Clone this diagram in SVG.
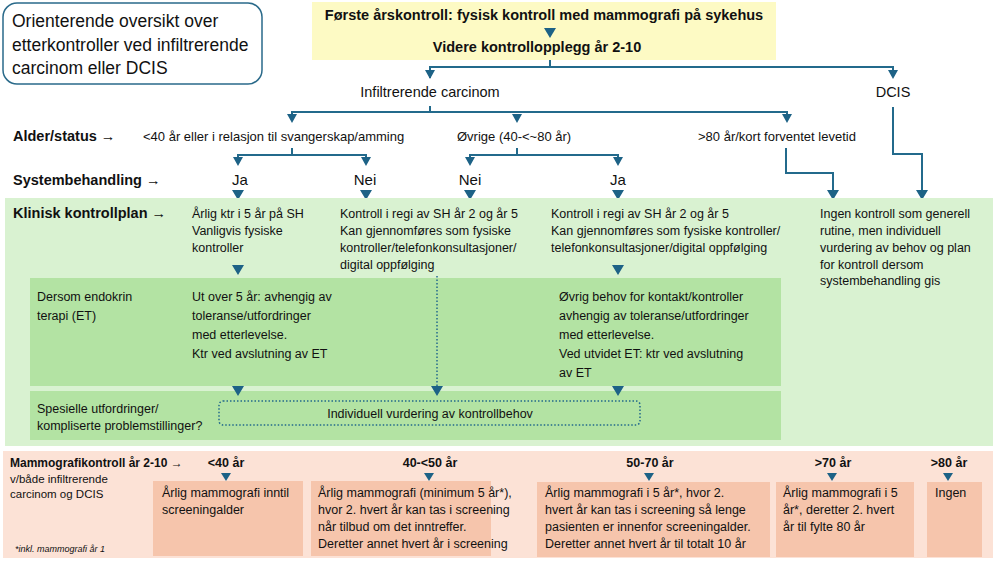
<svg xmlns="http://www.w3.org/2000/svg" width="995" height="563" viewBox="0 0 995 563">
<defs>
<style>
text{font-family:"Liberation Sans",Arial,sans-serif;fill:#111;font-size:12.5px}
.b{font-weight:bold}
.h{font-size:14.5px;font-weight:bold}
.y{font-size:14.5px;font-weight:bold}
.c{text-anchor:middle}
.ln{fill:none;stroke:#236a8c;stroke-width:2}
.tri{fill:#1d6286}
</style>
</defs>
<rect width="995" height="563" fill="#fff"/>
<g id="title">
<rect x="3" y="3" width="259" height="81" rx="14" fill="#fff" stroke="#2a6a8a" stroke-width="1.5"/>
<text x="12" y="27" style="font-size:17.5px">Orienterende oversikt over</text>
<text x="12" y="51" style="font-size:17.5px">etterkontroller ved infiltrerende</text>
<text x="12" y="74" style="font-size:17.5px">carcinom eller DCIS</text>
</g>
<g id="top">
<rect x="312" y="2" width="464" height="58" fill="#fdfac4"/>
<text x="544" y="20" class="y c">Første årskontroll: fysisk kontroll med mammografi på sykehus</text>
<path class="tri" d="M544,28 L556,28 L550,38 z"/>
<text x="537" y="52" class="y c">Videre kontrollopplegg år 2-10</text>
</g>
<g id="connectors">
<path class="ln" d="M550,60 V67 M430,78 V67 H893 V76"/>
<path class="tri" d="M425,70 L435,70 L430,79 z M888,70 L898,70 L893,79 z"/>
<path class="ln" d="M430,106 V112 M292,120 V112 H787 V120"/>
<path class="tri" d="M287,114 L297,114 L292,123 z M512,114 L522,114 L517,123 z M782,114 L792,114 L787,123 z"/>
<path class="ln" d="M292,148 V155 M238,163 V155 H366 V163"/>
<path class="tri" d="M233,157 L243,157 L238,166 z M361,157 L371,157 L366,166 z"/>
<path class="ln" d="M517,148 V155 M470,163 V155 H618 V163"/>
<path class="tri" d="M465,157 L475,157 L470,166 z M613,157 L623,157 L618,166 z"/>
<path class="ln" d="M786,148 V173 H833 V192"/>
<path class="ln" d="M893,107 V154 H922 V192"/>
<path class="tri" d="M232,190 L244,190 L238,200 z M360,190 L372,190 L366,200 z M464,190 L476,190 L470,200 z M612,190 L624,190 L618,200 z M827,190 L839,190 L833,200 z M916,190 L928,190 L922,200 z"/>
</g>
<g id="labels">
<text x="13" y="141" class="h">Alder/status →</text>
<text x="143" y="141" style="font-size:13px">&lt;40 år eller i relasjon til svangerskap/amming</text>
<text x="457" y="141" style="font-size:13px">Øvrige (40-&lt;~80 år)</text>
<text x="698" y="141" style="font-size:13px">&gt;80 år/kort forventet levetid</text>
<text x="430" y="97" class="c" style="font-size:14.5px">Infiltrerende carcinom</text>
<text x="893" y="97" class="c" style="font-size:14.5px">DCIS</text>
<text x="13" y="185" class="h">Systembehandling →</text>
<text x="240" y="185" class="c" style="font-size:15px">Ja</text>
<text x="365" y="185" class="c" style="font-size:15px">Nei</text>
<text x="470" y="185" class="c" style="font-size:15px">Nei</text>
<text x="618" y="185" class="c" style="font-size:15px">Ja</text>
</g>
<g id="clinical">
<rect x="5" y="198" width="988" height="248" fill="#d9f2d1"/>
<rect x="30" y="278" width="751" height="108" fill="#b3e3a3"/>
<rect x="30" y="391" width="751" height="49" fill="#b3e3a3"/>
<text x="13" y="218" class="h">Klinisk kontrollplan →</text>
<text x="192" y="218">Årlig ktr i 5 år på SH</text>
<text x="192" y="235">Vanligvis fysiske</text>
<text x="192" y="252">kontroller</text>
<text x="340" y="218">Kontroll i regi av SH år 2 og år 5</text>
<text x="340" y="235">Kan gjennomføres som fysiske</text>
<text x="340" y="252">kontroller/telefonkonsultasjoner/</text>
<text x="340" y="269">digital oppfølging</text>
<text x="551" y="218">Kontroll i regi av SH år 2 og år 5</text>
<text x="551" y="235">Kan gjennomføres som fysiske kontroller/</text>
<text x="551" y="252">telefonkonsultasjoner/digital oppfølging</text>
<text x="820" y="218">Ingen kontroll som generell</text>
<text x="820" y="235">rutine, men individuell</text>
<text x="820" y="252">vurdering av behov og plan</text>
<text x="820" y="269">for kontroll dersom</text>
<text x="820" y="285">systembehandling gis</text>
<path class="tri" d="M232,265 L244,265 L238,275 z M612,265 L624,265 L618,275 z"/>
<text x="37" y="301">Dersom endokrin</text>
<text x="37" y="320"> terapi (ET)</text>
<text x="192" y="301">Ut over 5 år: avhengig av</text>
<text x="192" y="320">toleranse/utfordringer</text>
<text x="192" y="339">med etterlevelse.</text>
<text x="192" y="358">Ktr ved avslutning av ET</text>
<text x="559" y="301">Øvrig behov for kontakt/kontroller</text>
<text x="559" y="320">avhengig av toleranse/utfordringer</text>
<text x="559" y="339">med etterlevelse.</text>
<text x="559" y="358">Ved utvidet ET: ktr ved avslutning</text>
<text x="559" y="377">av  ET</text>
<path d="M437,276 V386" stroke="#236a8c" stroke-width="1.5" stroke-dasharray="1.5 2" fill="none"/>
<path class="tri" d="M232,386 L244,386 L238,396 z M431,386 L443,386 L437,396 z M612,386 L624,386 L618,396 z"/>
<text x="37" y="413">Spesielle utfordringer/</text>
<text x="37" y="430">kompliserte problemstillinger?</text>
<rect x="219" y="401" width="421" height="24" rx="4" fill="none" stroke="#236a8c" stroke-width="1.5" stroke-dasharray="1.5 2"/>
<text x="430" y="418" class="c">Individuell vurdering av kontrollbehov</text>
</g>
<g id="mammo">
<rect x="3" y="451" width="990" height="107" fill="#fce2d6"/>
<rect x="153" y="481" width="150" height="75" fill="#f6c5ac"/>
<rect x="311" y="481" width="180" height="75" fill="#f6c5ac"/>
<rect x="537" y="482" width="233" height="75" fill="#f6c5ac"/>
<rect x="776" y="482" width="138" height="75" fill="#f6c5ac"/>
<rect x="927" y="482" width="55" height="75" fill="#f6c5ac"/>
<text x="10" y="467" class="b" style="font-size:12px">Mammografikontroll år 2-10 →</text>
<text x="10" y="483" style="font-size:11.5px">v/både infiltrerende</text>
<text x="10" y="498" style="font-size:11.5px">carcinom og DCIS</text>
<text x="15" y="552" style="font-size:9px;font-style:italic">*inkl. mammografi år 1</text>
<text x="226" y="467" class="b c">&lt;40 år</text>
<text x="430" y="467" class="b c">40-&lt;50 år</text>
<text x="650" y="467" class="b c">50-70 år</text>
<text x="833" y="467" class="b c">&gt;70 år</text>
<text x="949" y="467" class="b c">&gt;80 år</text>
<path class="tri" d="M221,473 L231,473 L226,481 z M424,473 L434,473 L429,481 z M644,473 L654,473 L649,481 z M827,473 L837,473 L832,481 z M943,473 L953,473 L948,481 z"/>
<text x="162" y="497">Årlig mammografi inntil</text>
<text x="162" y="514">screeningalder</text>
<text x="318" y="497">Årlig mammografi (minimum 5 år*),</text>
<text x="318" y="514">hvor 2. hvert år kan tas i screening</text>
<text x="318" y="531">når tilbud om det inntreffer.</text>
<text x="318" y="548">Deretter annet hvert år i screening</text>
<text x="545" y="497">Årlig mammografi i 5 år*,  hvor 2.</text>
<text x="545" y="514">hvert år kan tas i screening så lenge</text>
<text x="545" y="531">pasienten er innenfor screeningalder.</text>
<text x="545" y="548">Deretter annet hvert år til totalt 10 år</text>
<text x="783" y="497">Årlig mammografi i 5</text>
<text x="783" y="514">år*, deretter 2. hvert</text>
<text x="783" y="531">år til fylte 80 år</text>
<text x="935" y="497">Ingen</text>
</g>
</svg>
